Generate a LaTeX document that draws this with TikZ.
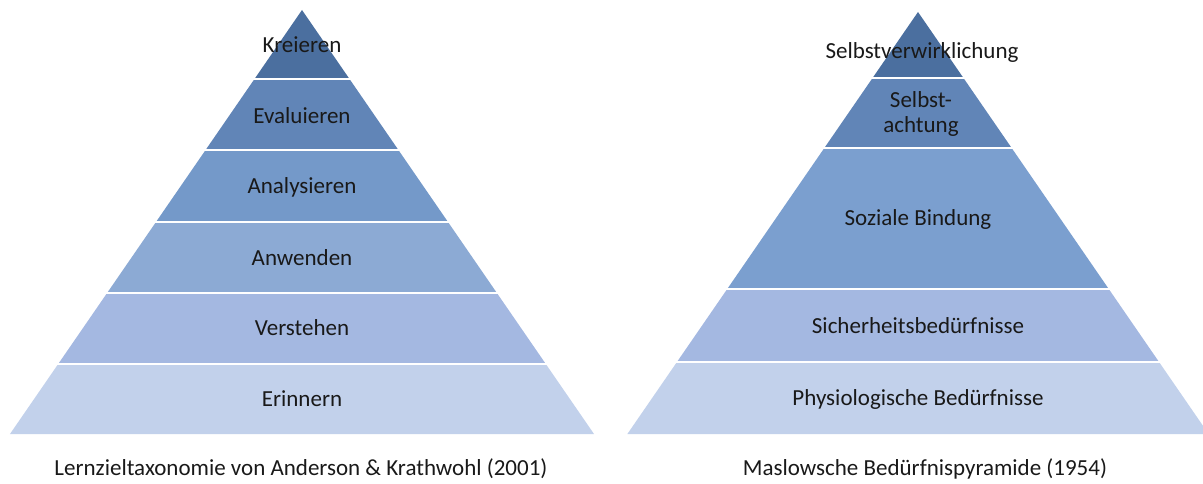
\documentclass[tikz,border=0pt]{standalone}
\usepackage{fontspec}
\setmainfont{Carlito}
\definecolor{cA}{HTML}{4B6F9F}
\definecolor{cB}{HTML}{6185B7}
\definecolor{cC}{HTML}{7499C9}
\definecolor{cD}{HTML}{8CAAD4}
\definecolor{cE}{HTML}{A4B8E1}
\definecolor{cF}{HTML}{C2D1EB}
\definecolor{cS}{HTML}{7B9FCF}
\newcommand{\pyrlayer}[5]{% cx, apex y, top y, bottom y, colour
  \pgfmathsetmacro{\hwt}{0.6887*(#3-#2)}
  \pgfmathsetmacro{\hwb}{0.6887*(#4-#2)}
  \fill[#5] ({#1-\hwt},{-#3}) -- ({#1+\hwt},{-#3}) -- ({#1+\hwb},{-#4}) -- ({#1-\hwb},{-#4}) -- cycle;
}
\begin{document}
\begin{tikzpicture}[x=1pt,y=1pt,
  lbl/.style={font=\fontsize{23}{25}\selectfont, text=black!90, inner sep=0pt, align=center},
  gap/.style={white, line width=2.6pt}]
\useasboundingbox (0,0) rectangle (1203,-484);
% left pyramid
\pyrlayer{302}{10}{10}{79}{cA}
\pyrlayer{302}{10}{79}{150}{cB}
\pyrlayer{302}{10}{150}{222}{cC}
\pyrlayer{302}{10}{222}{293}{cD}
\pyrlayer{302}{10}{293}{364}{cE}
\pyrlayer{302}{10}{364}{434}{cF}
\foreach \yy in {79,150,222,293,364} \draw[gap] (0,-\yy) -- (615,-\yy);
% right pyramid
\pyrlayer{918}{12}{12}{78}{cA}
\pyrlayer{918}{12}{78}{148}{cB}
\pyrlayer{918}{12}{148}{289}{cS}
\pyrlayer{918}{12}{289}{362}{cE}
\pyrlayer{918}{12}{362}{434}{cF}
\foreach \yy in {78,148,289,362} \draw[gap] (620,-\yy) -- (1203,-\yy);
% labels left
\node[lbl] (kre) at (302,-45) {Kreieren};
\node[lbl] (eva) at (302,-116) {Evaluieren};
\node[lbl] (ana) at (302,-187) {Analysieren};
\node[lbl] (anw) at (302,-258) {Anwenden};
\node[lbl] (ver) at (302,-328) {Verstehen};
\node[lbl] (eri) at (302,-399) {Erinnern};
\node[lbl] (capl) at (301,-469) {Lernzieltaxonomie von Anderson \& Krathwohl (2001)};
% labels right
\node[lbl] (sv) at (922,-52) {Selbstverwirklichung};
\node[lbl] (sa) at (921,-114) {Selbst-\\achtung};
\node[lbl] (sb) at (918,-219) {Soziale Bindung};
\node[lbl] (sh) at (918,-326) {Sicherheitsbedürfnisse};
\node[lbl] (pb) at (918,-399) {Physiologische Bedürfnisse};
\node[lbl] (capr) at (925,-469) {Maslowsche Bedürfnispyramide (1954)};
\end{tikzpicture}
\end{document}
